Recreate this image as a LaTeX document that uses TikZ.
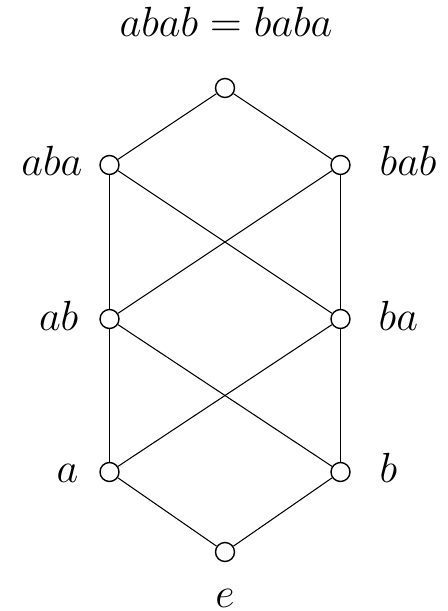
\documentclass[tikz,border=0pt]{standalone}
\usepackage{amsmath}
\usepackage{tikz}
\usetikzlibrary{positioning}

\begin{document}
\begin{tikzpicture}[
    x=0.01cm, y=-0.01cm,
    elem/.style={circle, draw=black, fill=white, inner sep=0pt, minimum size=0.19cm},
    cover/.style={line width=0.3pt, -},
    wordl/.style={font=\fontsize{12}{14}\selectfont, inner sep=0pt, anchor=base east},
    wordr/.style={font=\fontsize{12}{14}\selectfont, inner sep=0pt, anchor=base west},
    wordc/.style={font=\fontsize{12}{14}\selectfont, inner sep=0pt, anchor=base}
]
\useasboundingbox (0,0) rectangle (447,611);

%=== Hasse diagram of the dihedral group ===
\node[elem] (top) at (225,88)  {};
\node[elem] (aba) at (109.5,165) {};
\node[elem] (bab) at (340.5,165) {};
\node[elem] (ab)  at (109.5,319) {};
\node[elem] (ba)  at (340.5,319) {};
\node[elem] (a)   at (109.5,472) {};
\node[elem] (b)   at (340.5,472) {};
\node[elem] (e)   at (225,552) {};

% cover relations
\draw[cover] (top) -- (aba);
\draw[cover] (top) -- (bab);
\draw[cover] (aba) -- (ab);
\draw[cover] (aba) -- (ba);
\draw[cover] (bab) -- (ab);
\draw[cover] (bab) -- (ba);
\draw[cover] (ab) -- (a);
\draw[cover] (ab) -- (b);
\draw[cover] (ba) -- (a);
\draw[cover] (ba) -- (b);
\draw[cover] (a) -- (e);
\draw[cover] (b) -- (e);

% labels
\node[wordc] (toplabel) at (226,36)  {$abab=baba$};
\node[wordl] (abalabel) at (83,175)  {$aba$};
\node[wordr] (bablabel) at (379,175) {$bab$};
\node[wordl] (ablabel)  at (79,330)  {$ab$};
\node[wordr] (balabel)  at (378,330) {$ba$};
\node[wordl] (alabel)   at (79,482)  {$a$};
\node[wordr] (blabel)   at (379,482) {$b$};
\node[wordc] (elabel)   at (225,607) {$e$};

\end{tikzpicture}
\end{document}
